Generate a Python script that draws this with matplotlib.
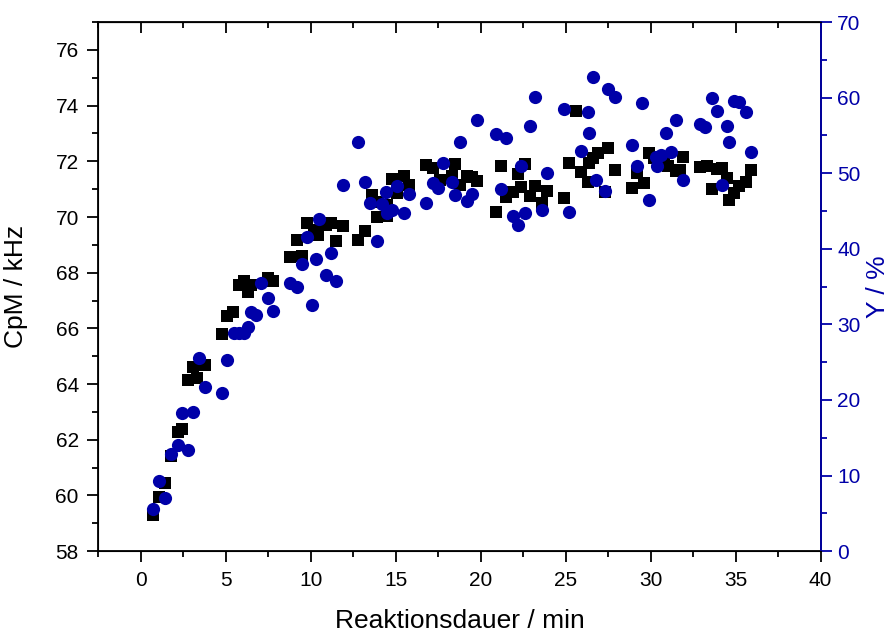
import matplotlib
matplotlib.use('Agg')
import matplotlib.pyplot as plt
from matplotlib.ticker import MultipleLocator

plt.rcParams['font.family'] = ['Liberation Sans', 'DejaVu Sans']

# CpM (black squares, left axis)
t_cpm = [0.7, 1.1, 1.4, 1.8, 2.2, 2.4, 2.8, 3.3, 3.1, 3.8, 4.8, 5.1, 5.4, 5.8, 6.1,
         6.3, 6.5, 7.5, 7.8, 8.8, 9.5, 9.2, 9.8, 10.2, 10.4, 10.9, 11.2, 11.9, 11.5,
         12.8, 13.2, 13.6, 13.9, 13.9, 14.5, 14.5, 14.8, 15.5, 15.8, 15.1, 16.8, 17.2,
         17.6, 18.3, 18.5, 18.8, 19.2, 19.5, 19.8, 20.9, 21.2, 21.5, 21.9, 22.2, 22.4,
         22.6, 22.9, 23.2, 23.6, 23.9, 24.9, 25.2, 25.6, 25.9, 26.3, 26.4, 26.6, 26.9,
         27.3, 27.5, 27.9, 28.9, 29.2, 29.6, 29.9, 30.2, 30.8, 31.0, 31.5, 31.7, 31.9,
         32.9, 33.3, 33.6, 33.9, 34.2, 34.5, 34.6, 34.9, 35.2, 35.6, 35.9]
cpm = [59.29, 59.94, 60.44, 61.4, 62.27, 62.4, 64.15, 64.2, 64.6, 64.7, 65.8, 66.44,
       66.58, 67.55, 67.7, 67.3, 67.55, 67.8, 67.7, 68.55, 68.6, 69.17, 69.78, 69.53,
       69.35, 69.7, 69.78, 69.67, 69.13, 69.17, 69.49, 70.78, 69.99, 70.53, 70.03, 70.42,
       71.36, 71.46, 71.14, 70.85, 71.86, 71.75, 71.32, 71.47, 71.9, 71.14, 71.47, 71.43,
       71.28, 70.17, 71.82, 70.71, 70.89, 71.54, 71.07, 71.9, 70.75, 71.1, 70.5, 70.93,
       70.68, 71.93, 73.8, 71.61, 71.25, 71.93, 72.11, 72.29, 70.89, 72.47, 71.68, 71.03,
       71.57, 71.21, 72.29, 72.11, 72.15, 71.82, 71.64, 71.68, 72.15, 71.79, 71.82, 71.0,
       71.72, 71.75, 71.39, 70.6, 70.85, 71.1, 71.25, 71.68]

# Y (blue circles, right axis)
t_y = [0.7, 1.1, 1.4, 1.8, 2.2, 2.8, 2.4, 3.1, 3.8, 3.4, 4.8, 5.1, 5.5, 5.8, 6.1, 6.3,
       6.5, 6.8, 7.1, 7.5, 7.8, 8.8, 9.2, 10.1, 9.5, 10.3, 10.9, 11.2, 11.5, 9.8, 10.5,
       11.9, 12.8, 13.2, 13.9, 14.4, 13.5, 14.2, 14.8, 14.5, 15.5, 15.1, 15.8, 16.8,
       17.2, 17.5, 17.8, 18.3, 18.5, 18.8, 19.2, 19.5, 19.8, 20.9, 21.2, 21.5, 21.9,
       22.2, 22.4, 22.6, 22.9, 23.2, 23.6, 23.9, 24.9, 25.2, 25.9, 26.3, 26.4, 26.6,
       26.8, 27.3, 27.5, 27.9, 28.9, 29.2, 29.5, 29.9, 30.3, 30.4, 30.6, 30.9, 31.2,
       31.5, 31.9, 32.9, 33.2, 33.6, 33.9, 34.2, 34.5, 34.6, 34.9, 35.2, 35.6, 35.9]
y_pct = [5.6, 9.3, 7.0, 12.9, 14.1, 13.4, 18.3, 18.4, 21.7, 25.6, 20.9, 25.3, 28.8, 28.9,
         28.8, 29.7, 31.6, 31.3, 35.5, 33.5, 31.8, 35.5, 35.0, 32.6, 38.0, 38.6, 36.6,
         39.5, 35.8, 41.5, 44.0, 48.5, 54.1, 48.8, 41.1, 47.5, 46.0, 45.9, 45.1, 44.7,
         44.7, 48.3, 47.3, 46.0, 48.7, 48.1, 51.3, 48.8, 47.1, 54.1, 46.3, 47.2, 57.1,
         55.2, 47.9, 54.6, 44.3, 43.2, 50.9, 44.8, 56.2, 60.1, 45.1, 50.1, 58.5, 44.9,
         53.0, 58.1, 55.3, 62.8, 49.1, 47.6, 61.2, 60.1, 53.8, 50.9, 59.3, 46.4, 52.1,
         50.9, 52.4, 55.3, 52.8, 57.1, 49.1, 56.5, 56.1, 59.9, 58.2, 48.4, 56.2, 54.2,
         59.5, 59.4, 58.1, 52.8]

BLUE = '#0000A8'

fig = plt.figure(figsize=(8.93, 6.32), dpi=100)
ax = fig.add_axes([0.110, 0.128, 0.809, 0.837])

ax.plot(t_cpm, cpm, 's', color='black', markersize=8.5, markeredgewidth=0)
ax.set_xlim(-2.5, 40)
ax.set_ylim(58, 77)
ax.xaxis.set_major_locator(MultipleLocator(5))
ax.xaxis.set_minor_locator(MultipleLocator(2.5))
ax.yaxis.set_major_locator(MultipleLocator(2))
ax.yaxis.set_minor_locator(MultipleLocator(1))
ax.tick_params(which='major', direction='out', length=8, width=1.3, labelsize=15, pad=6)
ax.tick_params(which='minor', direction='out', length=4, width=1.3)
ax.set_xlabel('Reaktionsdauer / min', fontsize=19, labelpad=14)
ax.set_ylabel('CpM / kHz', fontsize=19, labelpad=20)
for s in ax.spines.values():
    s.set_linewidth(1.3)

# top ticks pointing inward, no labels
top = ax.secondary_xaxis('top')
top.xaxis.set_major_locator(MultipleLocator(5))
top.xaxis.set_minor_locator(MultipleLocator(2.5))
top.tick_params(which='major', direction='in', length=8, width=1.3, labeltop=False)
top.tick_params(which='minor', direction='in', length=4, width=1.3)

ax2 = ax.twinx()
ax2.plot(t_y, y_pct, 'o', color=BLUE, markersize=9.5, markeredgewidth=0)
ax2.set_ylim(0, 70)
ax2.yaxis.set_major_locator(MultipleLocator(10))
ax2.yaxis.set_minor_locator(MultipleLocator(5))
ax2.tick_params(which='major', direction='out', length=8, width=1.3, labelsize=15,
                colors=BLUE, pad=4)
ax2.tick_params(which='minor', direction='out', length=4, width=1.3, colors=BLUE)
ax2.spines['right'].set_color(BLUE)
ax2.spines['right'].set_linewidth(1.3)
ax2.set_ylabel('Y / %', fontsize=19, color=BLUE, labelpad=4)

plt.savefig('out.png', dpi=100)
print("Saved: out.png")
